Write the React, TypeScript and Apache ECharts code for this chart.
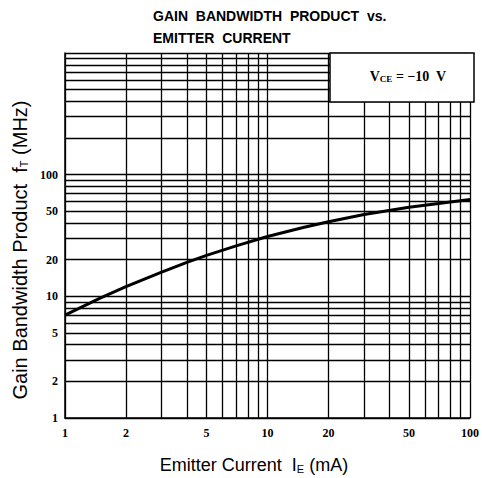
import React, { useEffect, useRef } from "react";
import * as echarts from "echarts";

const currentMA = [1, 1.5, 2, 3, 4, 5, 7, 10, 15, 20, 30, 50, 70, 100];
const ftMHz = [7, 9.7, 12, 15.8, 19, 21.7, 26, 31, 36.8, 41, 47, 54, 58, 62.5];

const xGridValues = [1, 2, 3, 4, 5, 6, 7, 8, 9, 10, 20, 30, 40, 50, 60, 70, 80, 90, 100];
const yGridValues = [
  1, 2, 3, 4, 5, 6, 7, 8, 9, 10, 20, 30, 40, 50, 60, 70, 80, 90, 100,
  200, 300, 400, 500, 600, 700, 800, 900, 1000,
];
const xTickLabels = [1, 2, 5, 10, 20, 50, 100];
const yTickLabels = [1, 2, 5, 10, 20, 50, 100];

export default function App() {
  const ref = useRef<HTMLDivElement>(null);
  useEffect(() => {
    if (!ref.current) return;
    const chart = echarts.init(ref.current, null, { renderer: "svg" });
    const labelStyle = {
      fontFamily: "Liberation Serif",
      fontWeight: "bold" as const,
      fontSize: 12,
      color: "#000",
    };
    chart.setOption({
      animation: false,
      backgroundColor: "#fff",
      title: {
        text: "GAIN  BANDWIDTH  PRODUCT  vs.\nEMITTER  CURRENT",
        left: 148,
        top: 0,
        textStyle: {
          fontFamily: "Liberation Sans",
          fontWeight: "bold",
          fontSize: 14,
          lineHeight: 22,
          color: "#000",
        },
      },
      grid: { left: 65, top: 53, width: 409, height: 365 },
      xAxis: {
        type: "log",
        logBase: 10,
        min: 1,
        max: 100,
        axisLine: { show: true, lineStyle: { color: "#000", width: 1.5 } },
        axisTick: { show: false, customValues: xGridValues },
        axisLabel: { ...labelStyle, margin: 9, customValues: xTickLabels },
        splitLine: { show: true, lineStyle: { color: "#000", width: 1.3 } },
      },
      yAxis: {
        type: "log",
        logBase: 10,
        min: 1,
        max: 1000,
        axisLine: { show: true, lineStyle: { color: "#000", width: 1.5 } },
        axisTick: { show: false, customValues: yGridValues },
        axisLabel: { ...labelStyle, margin: 7, customValues: yTickLabels },
        splitLine: { show: true, lineStyle: { color: "#000", width: 1.3 } },
      },
      graphic: [
        {
          type: "rect",
          z: 100,
          shape: { x: 330, y: 53, width: 144, height: 49 },
          style: { fill: "#fff", stroke: "#000", lineWidth: 1.5 },
        },
        {
          type: "text",
          z: 101,
          x: 408,
          y: 76,
          style: {
            text: "{v|V}{s|CE}{v| = −10  V}",
            align: "center",
            verticalAlign: "middle",
            rich: {
              v: { fontFamily: "Liberation Serif", fontWeight: "bold", fontSize: 14, fill: "#000" },
              s: {
                fontFamily: "Liberation Serif",
                fontWeight: "bold",
                fontSize: 9,
                fill: "#000",
                padding: [6, 0, 0, 0],
              },
            },
          },
        },
        {
          type: "text",
          x: 20,
          y: 250,
          rotation: Math.PI / 2,
          style: {
            text: "{n|Gain Bandwidth Product  f}{s|T}{n| (MHz)}",
            align: "center",
            verticalAlign: "middle",
            rich: {
              n: { fontFamily: "Liberation Sans", fontSize: 20, fill: "#000" },
              s: { fontFamily: "Liberation Sans", fontSize: 11, fill: "#000", padding: [7, 0, 0, 0] },
            },
          },
        },
        {
          type: "text",
          x: 254,
          y: 465,
          style: {
            text: "{n|Emitter Current  I}{s|E}{n| (mA)}",
            align: "center",
            verticalAlign: "middle",
            rich: {
              n: { fontFamily: "Liberation Sans", fontSize: 18, fill: "#000" },
              s: { fontFamily: "Liberation Sans", fontSize: 11, fill: "#000", padding: [7, 0, 0, 0] },
            },
          },
        },
      ],
      series: [
        {
          type: "line",
          data: currentMA.map((x, i) => [x, ftMHz[i]]),
          smooth: false,
          symbol: "none",
          lineStyle: { color: "#000", width: 3, join: "round" },
          z: 5,
        },
      ],
    });
    return () => chart.dispose();
  }, []);
  return (
    <div
      ref={ref}
      style={{ position: "fixed", left: 0, top: 0, width: 482, height: 478 }}
    />
  );
}
